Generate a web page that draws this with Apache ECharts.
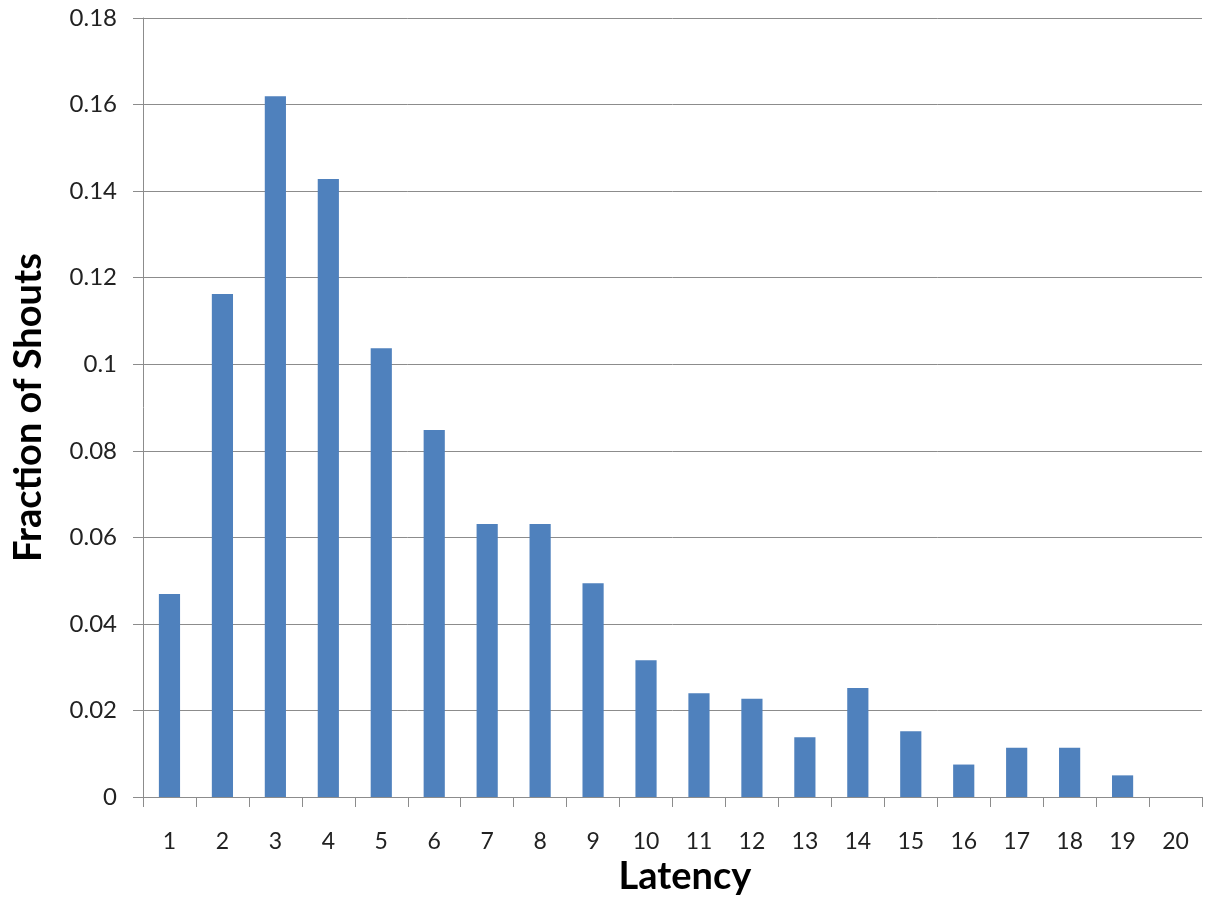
<!DOCTYPE html>
<html>
<head>
<meta charset="utf-8">
<script src="https://cdn.jsdelivr.net/npm/echarts@6/dist/echarts.min.js"></script>
<style>
html,body{margin:0;padding:0;background:#fff;}
#main{width:1217px;height:917px;}
</style>
</head>
<body>
<div id="main"></div>
<script>
var categories = ['1','2','3','4','5','6','7','8','9','10','11','12','13','14','15','16','17','18','19','20'];
var fractionOfShouts = [0.0469,0.1162,0.1619,0.1428,0.1037,0.0848,0.0631,0.0631,0.0494,0.0316,0.0240,0.0227,0.0138,0.0252,0.0152,0.0075,0.0114,0.0114,0.0050,0];
var yMin = 0, yMax = 0.18, yStep = 0.02;
var xTitle = 'Latency';
var yTitle = 'Fraction of Shouts';

var chart = echarts.init(document.getElementById('main'), null, {renderer:'canvas'});
var font = 'Lato, "Open Sans", sans-serif';
chart.setOption({
  animation: false,
  backgroundColor: '#ffffff',
  grid: {left: 143, right: 15, top: 18, bottom: 120, containLabel: false},
  xAxis: {
    type: 'category',
    data: categories,
    boundaryGap: true,
    name: xTitle,
    nameLocation: 'middle',
    nameGap: 52,
    nameTextStyle: {fontFamily: font, fontWeight: 'bold', fontSize: 38, color: '#000', padding: [0,0,0,25]},
    axisLine: {lineStyle: {color: '#8c8c8c', width: 1}},
    axisTick: {show: true, inside: false, length: 10, interval: 0, lineStyle: {color: '#8c8c8c'}},
    axisLabel: {fontFamily: font, fontSize: 23, color: '#222', margin: 33, interval: 0},
    splitLine: {show: false}
  },
  yAxis: {
    type: 'value',
    min: yMin, max: yMax, interval: yStep,
    name: yTitle,
    nameLocation: 'middle',
    nameGap: 95,
    nameRotate: 90,
    nameTextStyle: {fontFamily: font, fontWeight: 'bold', fontSize: 38, color: '#000'},
    axisLine: {show: true, lineStyle: {color: '#8c8c8c', width: 1}},
    axisTick: {show: true, inside: false, length: 10, lineStyle: {color: '#8c8c8c'}},
    axisLabel: {fontFamily: font, fontSize: 24, color: '#222', margin: 26},
    splitLine: {show: true, lineStyle: {color: '#8c8c8c', width: 1}}
  },
  series: [{
    type: 'bar',
    data: fractionOfShouts,
    barWidth: '40%',
    itemStyle: {color: '#4f81bd'}
  }]
});
</script>
</body>
</html>
